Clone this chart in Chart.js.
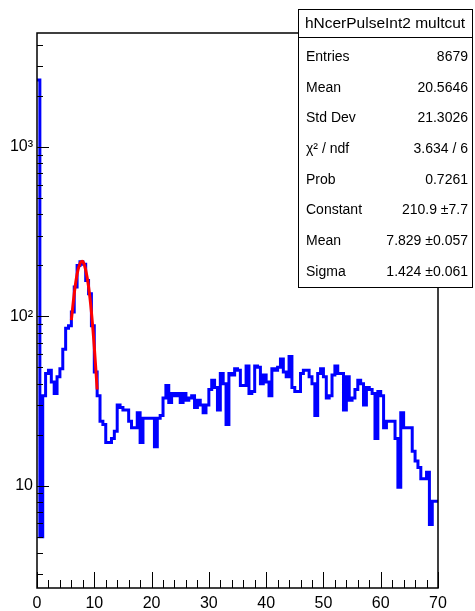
<!DOCTYPE html>
<html>
<head>
<meta charset="utf-8">
<script src="https://cdn.jsdelivr.net/npm/chart.js@4/dist/chart.umd.min.js"></script>
<style>
  html, body { margin: 0; padding: 0; background: #fff; }
  canvas { display: block; }
</style>
</head>
<body>
<canvas id="histo" width="475" height="611"></canvas>
<script>
// bin contents, 140 bins of 0.5 from 0 to 70
const binWidth = 0.5;
const counts = [
  2490, 5, 34, 46, 48, 41, 35, 44, 49, 64,
  85, 88, 106, 149, 200, 210, 203, 163, 136, 88,
  47, 34, 24, 23, 18, 18, 19, 21, 30, 29,
  28, 28, 24, 22, 22, 27, 18, 25, 25, 25,
  25, 17, 25, 26, 33, 39, 31, 35, 34, 35,
  31, 35, 32, 33, 34, 29, 32, 30, 27, 30,
  37, 42, 38, 28, 46, 40, 23, 46, 45, 49,
  48, 39, 39, 51, 35, 36, 51, 50, 40, 45,
  41, 34, 49, 48, 50, 56, 47, 44, 58, 38,
  36, 36, 46, 48, 48, 44, 40, 26, 46, 49,
  44, 33, 34, 45, 51, 46, 46, 28, 44, 32,
  33, 37, 42, 40, 30, 38, 37, 35, 19, 36,
  34, 22, 24, 24, 24, 19, 9.8, 27, 22, 22,
  22, 16, 14, 12.8, 11, 11, 12, 5.9, 8.1, 8.1
];

// gaus fit curve as drawn (red)
const fitX = [6.0, 6.5, 7.0, 7.5, 7.8, 8.1, 8.5, 9.0, 9.5, 10.0, 10.5];
const fitY = [95, 136, 178, 205, 211, 208, 188, 150, 106, 66, 37];

const histTitle = "hNcerPulseInt2 multcut";
const statNames = ["Entries", "Mean", "Std Dev", "\u03C7\u00B2 / ndf", "Prob", "Constant", "Mean", "Sigma"];
const statValues = ["8679", "20.5646", "21.3026", "3.634 / 6", "0.7261", "210.9 \u00B17.7", "7.829 \u00B10.057", "1.424 \u00B10.061"];

const yMajor = [10, 100, 1000];
const yMajorLabels = ["10", "10\u00B2", "10\u00B3"];
const yMinor = [3, 4, 5, 6, 7, 8, 9, 20, 30, 40, 50, 60, 70, 80, 90,
                200, 300, 400, 500, 600, 700, 800, 900, 2000, 3000, 4000];
const xMin = 0, xMax = 70, yMin = 2.49, yMax = 4710;

const FONT = "'Liberation Sans', Arial, Helvetica, sans-serif";

let histPoints = counts.map((c, i) => ({x: i * binWidth, y: c}));
histPoints.push({x: counts.length * binWidth, y: counts[counts.length - 1]});
let fitPoints = fitX.map((x, i) => ({x: x, y: fitY[i]}));

// ROOT style frame, inner ticks and stats box
const rootFrame = {
  id: "rootFrame",
  afterDraw(chart) {
    const ctx = chart.ctx;
    const a = chart.chartArea;
    const xs = chart.scales.x, ys = chart.scales.y;
    ctx.save();
    ctx.strokeStyle = "#000";
    ctx.lineWidth = 1.5;
    ctx.strokeRect(a.left, a.top, a.right - a.left, a.bottom - a.top);

    ctx.lineWidth = 1;
    ctx.beginPath();
    for (let v = xMin; v <= xMax; v += 2) {
      let px = Math.round(xs.getPixelForValue(v)) + 0.5;
      let len = (v % 10 === 0) ? 16 : 8;
      ctx.moveTo(px, a.bottom);
      ctx.lineTo(px, a.bottom - len);
    }
    yMajor.forEach(v => {
      let py = Math.round(ys.getPixelForValue(v)) + 0.5;
      ctx.moveTo(a.left, py);
      ctx.lineTo(a.left + 12, py);
    });
    yMinor.forEach(v => {
      let py = Math.round(ys.getPixelForValue(v)) + 0.5;
      ctx.moveTo(a.left, py);
      ctx.lineTo(a.left + 6, py);
    });
    ctx.stroke();

    // stats box
    const bx = 298, by = 9, bw = 174, bh = 278;
    ctx.fillStyle = "#fff";
    ctx.fillRect(bx, by, bw, bh);
    ctx.lineWidth = 1;
    ctx.strokeRect(bx + 0.5, by + 0.5, bw, bh);
    ctx.beginPath();
    ctx.moveTo(bx, 37.5);
    ctx.lineTo(bx + bw, 37.5);
    ctx.stroke();

    ctx.fillStyle = "#000";
    ctx.textBaseline = "middle";
    ctx.textAlign = "center";
    ctx.font = "15.5px " + FONT;
    ctx.fillText(histTitle, bx + bw / 2, 24);
    ctx.font = "14px " + FONT;
    statNames.forEach((name, i) => {
      let ty = 57 + i * 30.7;
      ctx.textAlign = "left";
      ctx.fillText(name, bx + 8, ty);
      ctx.textAlign = "right";
      ctx.fillText(statValues[i], bx + bw - 4, ty);
    });
    ctx.restore();
  }
};

new Chart(document.getElementById("histo").getContext("2d"), {
  type: "line",
  data: {
    datasets: [{
      label: "hNcerPulseInt2 multcut",
      data: histPoints,
      borderColor: "#0000ff",
      borderWidth: 3,
      stepped: true,
      pointRadius: 0,
      fill: false,
      order: 2
    }, {
      label: "gaus",
      data: fitPoints,
      borderColor: "#ff0000",
      borderWidth: 3,
      tension: 0.4,
      pointRadius: 0,
      fill: false,
      order: 1
    }]
  },
  options: {
    responsive: false,
    animation: false,
    events: [],
    layout: { padding: { top: 33, right: 37, left: 0, bottom: 0 } },
    plugins: { legend: { display: false }, tooltip: { enabled: false } },
    scales: {
      x: {
        type: "linear",
        min: xMin, max: xMax,
        grid: { display: false, drawTicks: false },
        border: { display: false },
        ticks: {
          stepSize: 10, maxRotation: 0, autoSkip: false,
          color: "#000", padding: 6,
          font: { family: FONT, size: 16 }
        },
        afterFit: s => { s.height = 23; }
      },
      y: {
        type: "logarithmic",
        min: yMin, max: yMax,
        grid: { display: false, drawTicks: false },
        border: { display: false },
        afterBuildTicks: s => { s.ticks = yMajor.map(v => ({value: v})); },
        ticks: {
          autoSkip: false, color: "#000", padding: 4,
          font: { family: FONT, size: 16 },
          callback: v => yMajorLabels[yMajor.indexOf(v)]
        },
        afterFit: s => { s.width = 37; }
      }
    }
  },
  plugins: [rootFrame]
});
</script>
</body>
</html>
